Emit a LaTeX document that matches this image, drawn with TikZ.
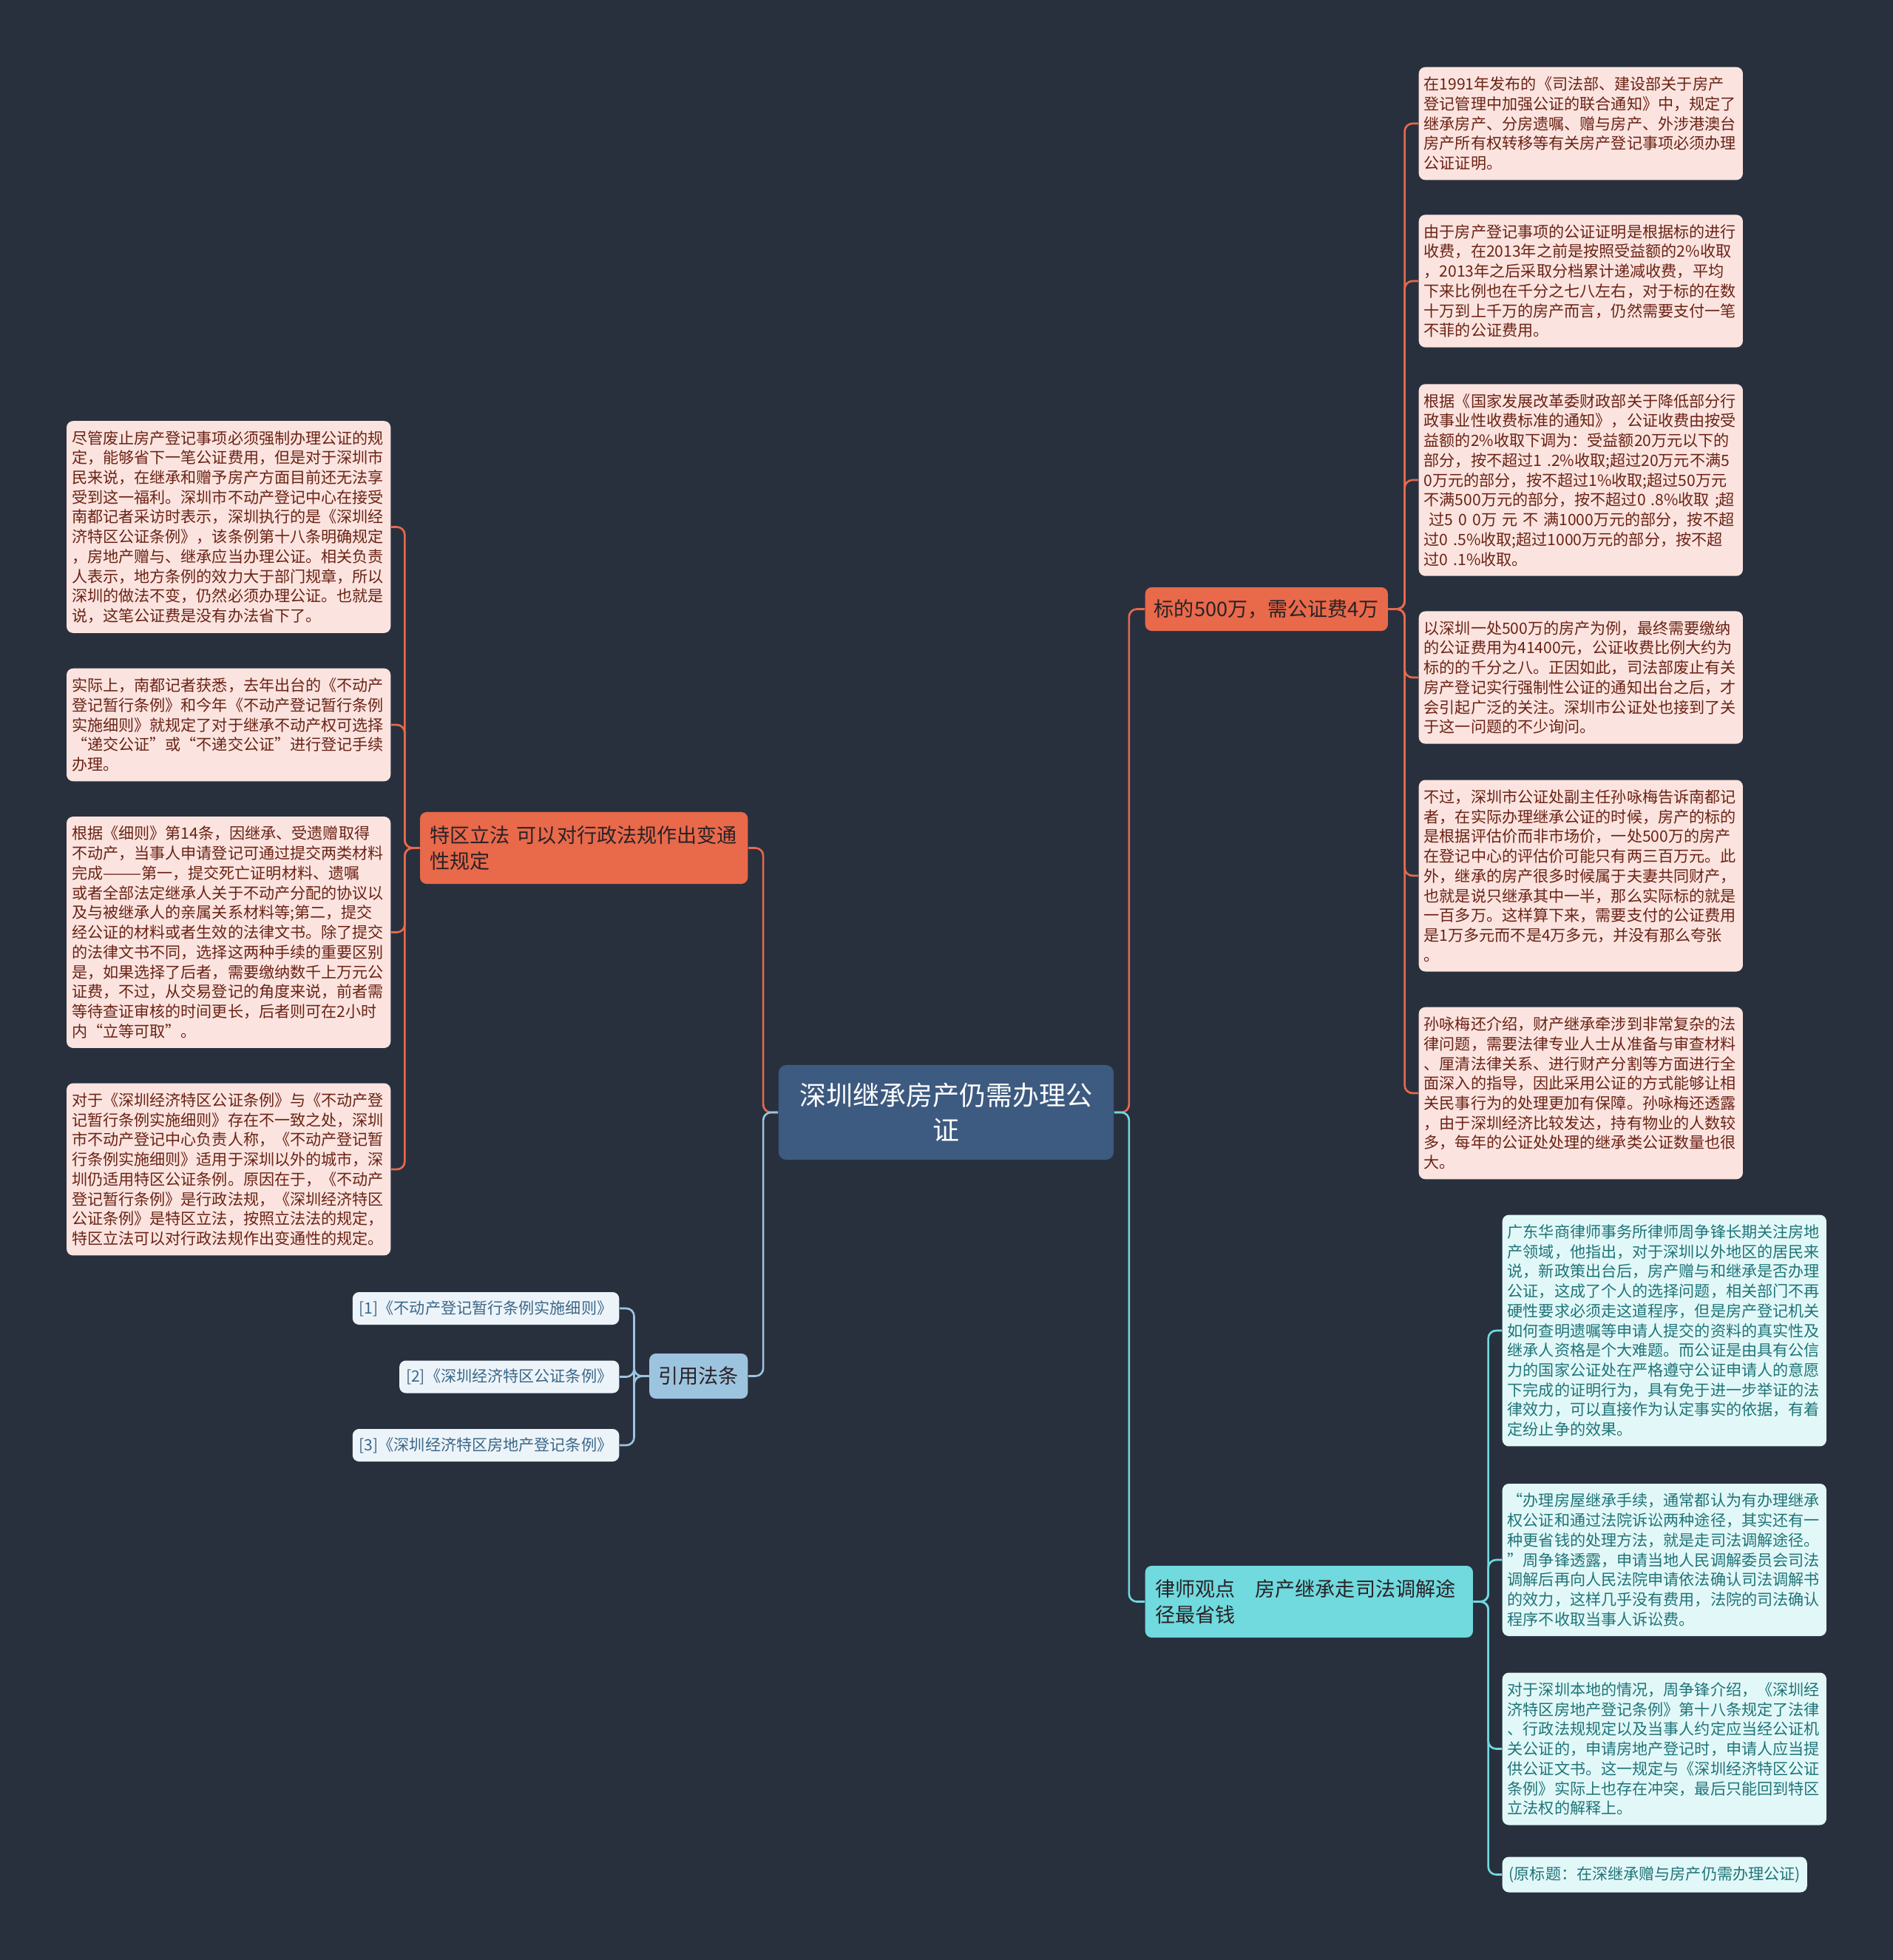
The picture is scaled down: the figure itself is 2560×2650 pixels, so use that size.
\documentclass[tikz,border=0pt]{standalone}
\usepackage{fontspec}
\setmainfont{Noto Sans CJK SC}
\usepackage{tikz}
\usetikzlibrary{positioning,calc}
\definecolor{night}    {HTML}{28303E}
\definecolor{steel}    {HTML}{3D5A80}
\definecolor{coral}    {HTML}{E9694B}
\definecolor{aqua}     {HTML}{70DADE}
\definecolor{sky}      {HTML}{9DC4DF}
\definecolor{rust}     {HTML}{6B2215}
\definecolor{deepteal} {HTML}{1F7478}
\definecolor{slateink} {HTML}{3A6788}
\definecolor{darkink}  {HTML}{2A2226}
\colorlet{peach}{coral!18}
\colorlet{ice}{aqua!20}
\colorlet{mist}{sky!18}
\tikzset{
  % --- nodes
  mod/.style   = {rounded corners=2.5pt, align=left, inner xsep=0.07cm, inner ysep=0.13cm,
                  font=\fontsize{6.0}{7.6}\selectfont},
  leafo/.style = {mod, fill=peach, text=rust, text width=4.24cm},
  leafc/.style = {mod, fill=ice, text=deepteal, text width=4.24cm},
  cite/.style  = {mod, fill=mist, text=slateink, inner xsep=0.09cm, inner ysep=0pt,
                  minimum height=0.44cm},
  topic/.style = {rounded corners=2.5pt, align=left, text=darkink,
                  font=\fontsize{7.7}{10.1}\selectfont},
  wide/.style  = {topic, text width=4.16cm, inner xsep=0.135cm, minimum height=0.97cm},
  root/.style  = {rounded corners=3pt, fill=steel, text=white, align=center,
                  font=\fontsize{10.25}{13.4}\selectfont, minimum width=4.53cm,
                  minimum height=1.28cm},
  % --- edges
  e/.style     = {line width=0.75pt, rounded corners=3pt},
  eo/.style    = {e, draw=coral},
  ec/.style    = {e, draw=aqua},
  eb/.style    = {e, draw=sky},
}

\begin{document}
\begin{tikzpicture}[x=0.01cm, y=-0.01cm]
  \fill[night] (0,0) rectangle (2560,2650);

  % centre and main topics
  \node[root] (root) at (1279.5,1504) {深圳继承房产仍需办理公\\证};
  \node[topic, fill=coral, minimum width=3.28cm, minimum height=0.59cm, anchor=west]
    (fee) at (1548,823.5) {标的500万，需公证费4万};
  \node[wide, fill=aqua, anchor=west]
    (lawyer) at (1548,2165.5) {律师观点　房产继承走司法调解途\\径最省钱};
  \node[wide, fill=coral, anchor=east]
    (spec) at (1012,1146.5) {特区立法 可以对行政法规作出变通\\性规定};
  \node[topic, fill=sky, minimum width=1.33cm, minimum height=0.61cm, anchor=east]
    (law) at (1012,1860.5) {引用法条};

  % fee leaves
  \node[leafo, anchor=west] (r1) at (1918,167) {在1991年发布的《司法部、建设部关于房产\\
    登记管理中加强公证的联合通知》中，规定了\\继承房产、分房遗嘱、赠与房产、外涉港澳台\\
    房产所有权转移等有关房产登记事项必须办理\\公证证明。};
  \node[leafo, anchor=west] (r2) at (1918,380) {由于房产登记事项的公证证明是根据标的进行\\
    收费，在2013年之前是按照受益额的2\%收取\\，2013年之后采取分档累计递减收费，平均\\
    下来比例也在千分之七八左右，对于标的在数\\十万到上千万的房产而言，仍然需要支付一笔\\
    不菲的公证费用。};
  \node[leafo, anchor=west] (r3) at (1918,649) {根据《国家发展改革委财政部关于降低部分行\\
    政事业性收费标准的通知》，公证收费由按受\\益额的2\%收取下调为：受益额20万元以下的\\
    部分，按不超过1 .2\%收取;超过20万元不满5\\0万元的部分，按不超过1\%收取;超过50万元\\
    不满500万元的部分，按不超过0 .8\%收取 ;超\\~过5 0 0万 元 不 满1000万元的部分，按不超\\
    过0 .5\%收取;超过1000万元的部分，按不超\\过0 .1\%收取。};
  \node[leafo, anchor=west] (r4) at (1918,916) {以深圳一处500万的房产为例，最终需要缴纳\\
    的公证费用为41400元，公证收费比例大约为\\标的的千分之八。正因如此，司法部废止有关\\
    房产登记实行强制性公证的通知出台之后，才\\会引起广泛的关注。深圳市公证处也接到了关\\
    于这一问题的不少询问。};
  \node[leafo, anchor=west] (r5) at (1918,1184) {不过，深圳市公证处副主任孙咏梅告诉南都记\\
    者，在实际办理继承公证的时候，房产的标的\\是根据评估价而非市场价，一处500万的房产\\
    在登记中心的评估价可能只有两三百万元。此\\外，继承的房产很多时候属于夫妻共同财产，\\
    也就是说只继承其中一半，那么实际标的就是\\一百多万。这样算下来，需要支付的公证费用\\
    是1万多元而不是4万多元，并没有那么夸张\\。};
  \node[leafo, anchor=west] (r6) at (1918,1478) {孙咏梅还介绍，财产继承牵涉到非常复杂的法\\
    律问题，需要法律专业人士从准备与审查材料\\、厘清法律关系、进行财产分割等方面进行全\\
    面深入的指导，因此采用公证的方式能够让相\\关民事行为的处理更加有保障。孙咏梅还透露\\
    ，由于深圳经济比较发达，持有物业的人数较\\多，每年的公证处处理的继承类公证数量也很\\
    大。};

  % special zone leaves
  \node[leafo, anchor=east] (l1) at (529,712.5) {尽管废止房产登记事项必须强制办理公证的规\\
    定，能够省下一笔公证费用，但是对于深圳市\\民来说，在继承和赠予房产方面目前还无法享\\
    受到这一福利。深圳市不动产登记中心在接受\\南都记者采访时表示，深圳执行的是《深圳经\\
    济特区公证条例》，该条例第十八条明确规定\\，房地产赠与、继承应当办理公证。相关负责\\
    人表示，地方条例的效力大于部门规章，所以\\深圳的做法不变，仍然必须办理公证。也就是\\
    说，这笔公证费是没有办法省下了。};
  \node[leafo, anchor=east] (l2) at (529,980) {实际上，南都记者获悉，去年出台的《不动产\\
    登记暂行条例》和今年《不动产登记暂行条例\\实施细则》就规定了对于继承不动产权可选择\\
    “递交公证”或“不递交公证”进行登记手续\\办理。};
  \node[leafo, anchor=east] (l3) at (529,1260.5) {根据《细则》第14条，因继承、受遗赠取得\\
    不动产，当事人申请登记可通过提交两类材料\\完成———第一，提交死亡证明材料、遗嘱\\
    或者全部法定继承人关于不动产分配的协议以\\及与被继承人的亲属关系材料等;第二，提交\\
    经公证的材料或者生效的法律文书。除了提交\\的法律文书不同，选择这两种手续的重要区别\\
    是，如果选择了后者，需要缴纳数千上万元公\\证费，不过，从交易登记的角度来说，前者需\\
    等待查证审核的时间更长，后者则可在2小时\\内“立等可取”。};
  \node[leafo, anchor=east] (l4) at (529,1581) {对于《深圳经济特区公证条例》与《不动产登\\
    记暂行条例实施细则》存在不一致之处，深圳\\市不动产登记中心负责人称，《不动产登记暂\\
    行条例实施细则》适用于深圳以外的城市，深\\圳仍适用特区公证条例。原因在于，《不动产\\
    登记暂行条例》是行政法规，《深圳经济特区\\公证条例》是特区立法，按照立法法的规定，\\
    特区立法可以对行政法规作出变通性的规定。};

  % cited laws
  \node[cite, anchor=east] (c1) at (838,1769) {[1]《不动产登记暂行条例实施细则》};
  \node[cite, anchor=east] (c2) at (838,1861.5) {[2]《深圳经济特区公证条例》};
  \node[cite, anchor=east] (c3) at (838,1954) {[3]《深圳经济特区房地产登记条例》};

  % lawyer leaves
  \node[leafc, anchor=west] (v1) at (2031,1799) {广东华商律师事务所律师周争锋长期关注房地\\
    产领域，他指出，对于深圳以外地区的居民来\\说，新政策出台后，房产赠与和继承是否办理\\
    公证，这成了个人的选择问题，相关部门不再\\硬性要求必须走这道程序，但是房产登记机关\\
    如何查明遗嘱等申请人提交的资料的真实性及\\继承人资格是个大难题。而公证是由具有公信\\
    力的国家公证处在严格遵守公证申请人的意愿\\下完成的证明行为，具有免于进一步举证的法\\
    律效力，可以直接作为认定事实的依据，有着\\定纷止争的效果。};
  \node[leafc, anchor=west] (v2) at (2031,2109) {“办理房屋继承手续，通常都认为有办理继承\\
    权公证和通过法院诉讼两种途径，其实还有一\\种更省钱的处理方法，就是走司法调解途径。\\
    ”周争锋透露，申请当地人民调解委员会司法\\调解后再向人民法院申请依法确认司法调解书\\
    的效力，这样几乎没有费用，法院的司法确认\\程序不收取当事人诉讼费。};
  \node[leafc, anchor=west] (v3) at (2031,2364.5) {对于深圳本地的情况，周争锋介绍，《深圳经\\
    济特区房地产登记条例》第十八条规定了法律\\、行政法规规定以及当事人约定应当经公证机\\
    关公证的，申请房地产登记时，申请人应当提\\供公证文书。这一规定与《深圳经济特区公证\\
    条例》实际上也存在冲突，最后只能回到特区\\立法权的解释上。};
  \node[mod, fill=ice, text=deepteal, inner xsep=0.09cm, anchor=west] (v4) at (2031,2534.5)
    {(原标题：在深继承赠与房产仍需办理公证)};

  % connectors
  \draw[eo] (root.west) -- ++(-20,0) |- (spec.east);
  \draw[eb] (root.west) -- ++(-20,0) |- (law.east);
  \draw[eo] (root.east) -- ++(20,0) |- (fee.west);
  \draw[ec] (root.east) -- ++(20,0) |- (lawyer.west);
  \foreach \n in {r1,r2,r3,r4,r5,r6}
    \draw[eo] (fee.east) -- ++(22,0) |- (\n.west);
  \foreach \n in {l1,l2,l3,l4}
    \draw[eo] (spec.west) -- ++(-20,0) |- (\n.east);
  \foreach \n in {c1,c2,c3}
    \draw[eb] (law.west) -- ++(-20,0) |- (\n.east);
  \foreach \n in {v1,v2,v3,v4}
    \draw[ec] (lawyer.east) -- ++(20,0) |- (\n.west);
\end{tikzpicture}
\end{document}
